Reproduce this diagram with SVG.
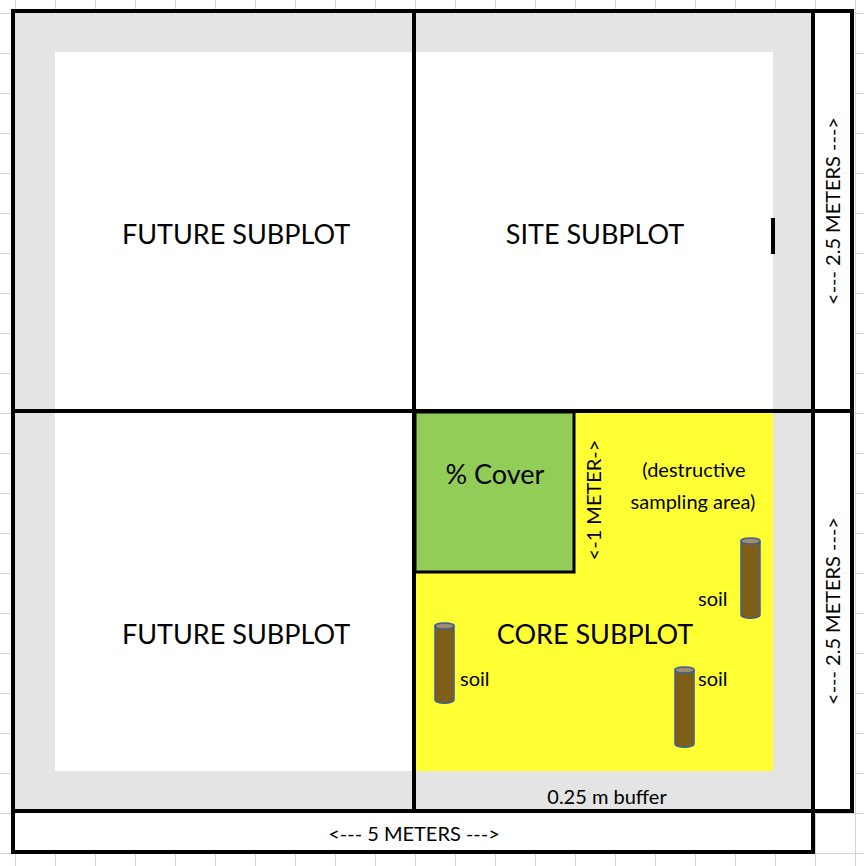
<svg xmlns="http://www.w3.org/2000/svg" width="864" height="866" viewBox="0 0 864 866">
<defs>
<pattern id="grid" x="15" y="13" width="40" height="40" patternUnits="userSpaceOnUse">
<path d="M0 0V40M0 0H40" fill="none" stroke="#d4d4d4" stroke-width="2"/>
</pattern>
<linearGradient id="soil" x1="0" x2="1"><stop offset="0" stop-color="#7a5a14"/><stop offset="1" stop-color="#7f6018"/></linearGradient>
</defs>
<style>
text{font-family:Lato,"Open Sans","Liberation Sans",sans-serif;fill:#000}
.big{font-size:27px}
.mid{font-size:20px}
.blk{fill:none;stroke:#000;stroke-width:4}
.cyl{fill:#7f5f17;stroke:#3c5f9a;stroke-width:1.5}
.cap{fill:#a08c6a;stroke:#3c5f9a;stroke-width:1.5}
</style>
<rect width="864" height="866" fill="#fff"/>
<rect width="864" height="866" fill="url(#grid)"/>
<rect x="13" y="11" width="800" height="800" fill="#e4e4e4"/>
<rect x="813" y="11" width="39" height="800" fill="#fff"/>
<rect x="13" y="811" width="800" height="41" fill="#fff"/>
<g id="future-top"><rect x="55" y="52" width="358" height="358" fill="#fff"/><text class="big" x="236" y="244" text-anchor="middle">FUTURE SUBPLOT</text></g>
<g id="site"><rect x="416" y="52" width="357" height="358" fill="#fff"/><text class="big" x="595" y="244" text-anchor="middle">SITE SUBPLOT</text><rect x="771" y="218" width="4" height="36" fill="#000"/></g>
<g id="future-bottom"><rect x="55" y="413" width="358" height="358" fill="#fff"/><text class="big" x="236" y="644" text-anchor="middle">FUTURE SUBPLOT</text></g>
<g id="core"><rect x="416" y="413" width="357" height="358" fill="#ffff33"/><text class="big" x="595" y="644" text-anchor="middle">CORE SUBPLOT</text>
<text class="mid" x="694" y="477" text-anchor="middle">(destructive</text>
<text class="mid" x="693" y="509" text-anchor="middle">sampling area)</text>
<text class="mid" transform="translate(601 500) rotate(-90)" text-anchor="middle">&lt;-1 METER-&gt;</text></g>
<g id="cover"><rect x="415" y="412" width="159" height="160" fill="#92cd58" stroke="#000" stroke-width="3"/><text class="big" x="495" y="484" text-anchor="middle">% Cover</text></g>
<g id="soil1"><path class="cyl" d="M741 541v74a9 3 0 0 0 19 0v-74z"/><ellipse class="cap" cx="750.5" cy="541" rx="9.5" ry="3"/><text class="mid" x="698" y="606">soil</text></g>
<g id="soil2"><path class="cyl" d="M435 626v74a9 3 0 0 0 19 0v-74z"/><ellipse class="cap" cx="444.5" cy="626" rx="9.5" ry="3"/><text class="mid" x="460" y="686">soil</text></g>
<g id="soil3"><path class="cyl" d="M675 670v74a9 3 0 0 0 19 0v-74z"/><ellipse class="cap" cx="684.5" cy="670" rx="9.5" ry="3"/><text class="mid" x="698" y="686">soil</text></g>
<g id="buffer"><text class="mid" x="607" y="804" text-anchor="middle">0.25 m buffer</text></g>
<g id="frame">
<rect class="blk" x="13" y="11" width="800" height="841"/>
<rect class="blk" x="813" y="11" width="39" height="800"/>
<path class="blk" d="M813 411H852M13 811H813M414 11V811M13 411H813"/>
</g>
<g id="dims">
<text class="mid" transform="translate(840 211) rotate(-90)" text-anchor="middle">&lt;--- 2.5 METERS ---&gt;</text>
<text class="mid" transform="translate(840 611) rotate(-90)" text-anchor="middle">&lt;--- 2.5 METERS ---&gt;</text>
<text class="mid" x="414" y="841" text-anchor="middle">&lt;--- 5 METERS ---&gt;</text>
</g>
</svg>
